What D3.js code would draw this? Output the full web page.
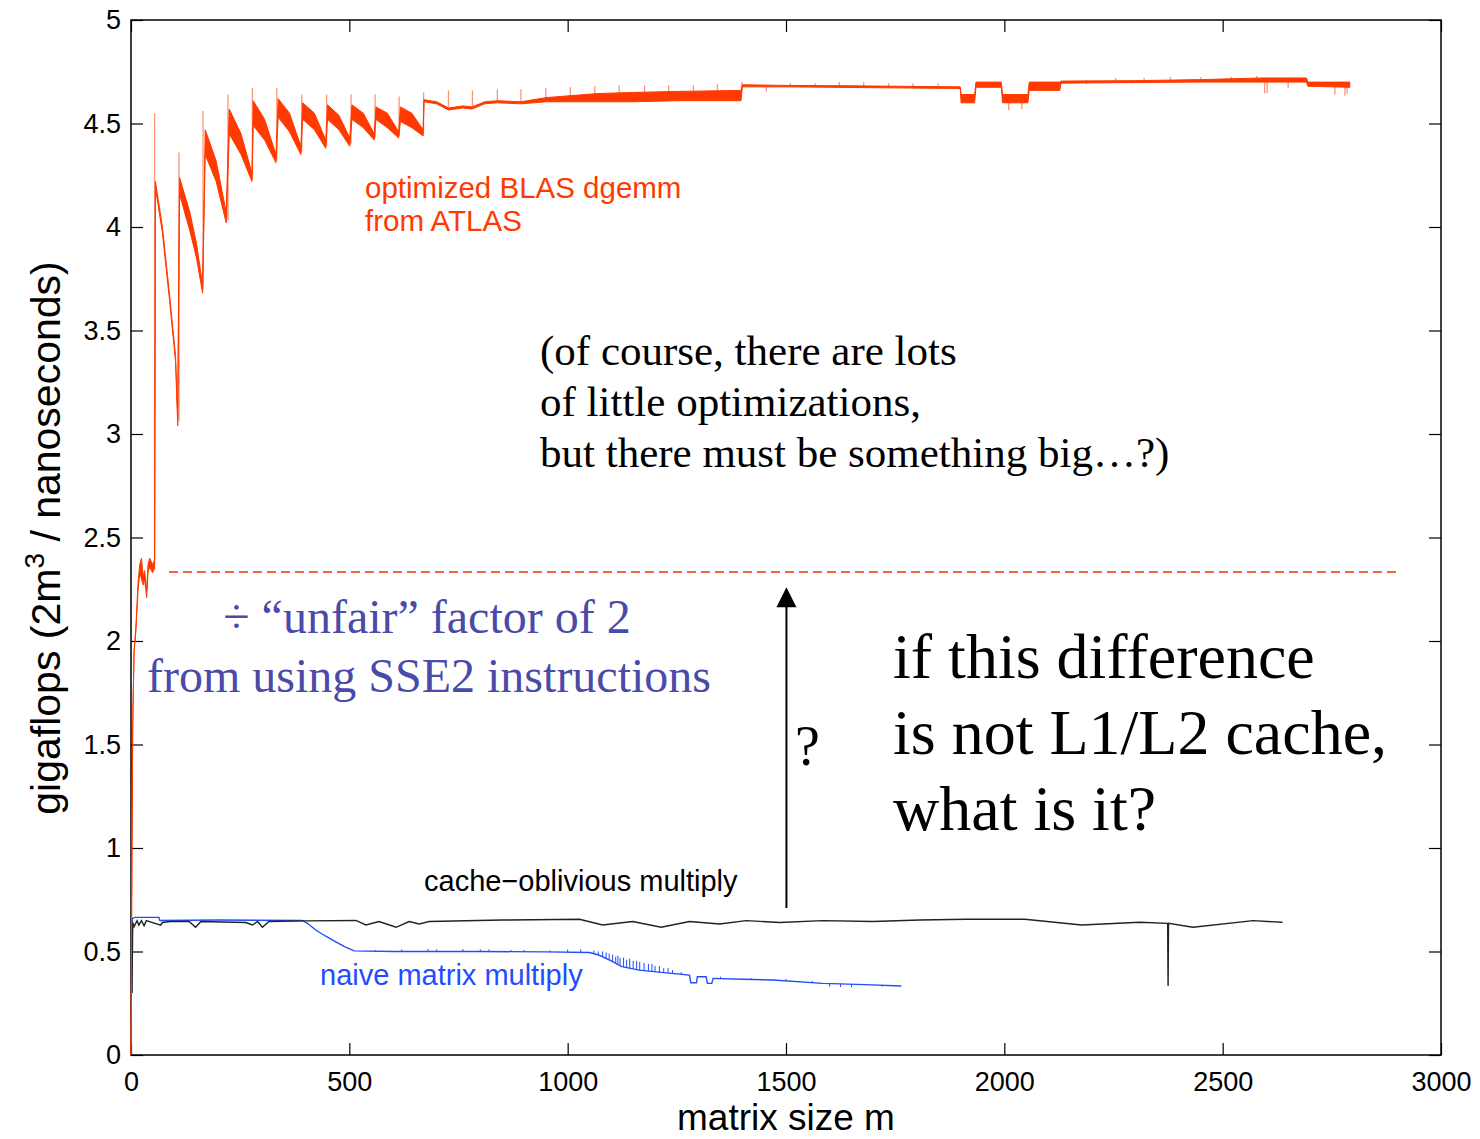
<!DOCTYPE html>
<html>
<head>
<meta charset="utf-8">
<script src="https://cdn.jsdelivr.net/npm/d3@7"></script>
<style>
  body { margin: 0; background: #fff; }
  text { font-family: "Liberation Sans", Arial, sans-serif; }
  .serif { font-family: "Liberation Serif", "Times New Roman", serif; }
</style>
</head>
<body>
<div id="chart"></div>
<script>
// axis ticks
const xTicks = [0, 500, 1000, 1500, 2000, 2500, 3000];
const yTicks = [0, 0.5, 1, 1.5, 2, 2.5, 3, 3.5, 4, 4.5, 5];

// optimized BLAS (ATLAS): [m, low, high] of the noisy band
const redBand = [
  [0,0,0],[2,0.9,0.9],[4,1.6,1.6],[7,1.95,1.95],[11,2.04,2.06],[16,2.24,2.28],[20,2.33,2.37],
  [24,2.3,2.4],[28,2.27,2.31],[31,2.3,2.34],[36,2.21,2.25],[39,2.33,2.37],[43,2.36,2.4],
  [49,2.33,2.37],[54,2.35,2.39],
  [56,4.19,4.22],[72,3.97,4.0],[88,3.65,3.68],[102,3.35,3.38],[107,3.04,3.08],
  [111,4.16,4.24],[135,3.98,4.07],[150,3.85,3.92],[164,3.68,3.72],
  [170,4.35,4.47],[195,4.22,4.32],[218,4.02,4.07],
  [225,4.45,4.57],[252,4.35,4.45],[277,4.22,4.26],
  [280,4.49,4.61],[306,4.42,4.52],[332,4.31,4.35],
  [337,4.53,4.62],[363,4.46,4.55],[389,4.35,4.39],
  [393,4.52,4.60],[420,4.47,4.55],[446,4.38,4.42],
  [450,4.52,4.59],[476,4.47,4.54],[501,4.39,4.43],
  [506,4.52,4.59],[532,4.48,4.55],[557,4.42,4.45],
  [561,4.52,4.58],[587,4.48,4.55],[613,4.43,4.46],
  [617,4.51,4.58],[643,4.48,4.55],[669,4.44,4.47],
  [671,4.605,4.615],[700,4.595,4.605],[727,4.565,4.575],[760,4.575,4.585],[781,4.57,4.58],
  [810,4.595,4.605],[839,4.60,4.61],[893,4.595,4.605],[950,4.605,4.625],[1010,4.605,4.635],
  [1072,4.605,4.645],[1150,4.605,4.65],[1250,4.61,4.655],[1397,4.61,4.66],
  [1400,4.677,4.687],[1500,4.677,4.684],[1650,4.674,4.682],[1800,4.671,4.679],[1899,4.669,4.677],
  [1901,4.60,4.64],[1932,4.60,4.64],
  [1935,4.675,4.70],[1993,4.675,4.70],
  [1996,4.60,4.64],[2054,4.60,4.64],
  [2057,4.66,4.70],[2127,4.66,4.70],
  [2130,4.695,4.705],[2300,4.698,4.707],[2450,4.70,4.712],[2590,4.70,4.72],[2692,4.70,4.72],
  [2695,4.68,4.70],[2791,4.675,4.70]
];
// thin spikes on the ATLAS curve: [m, from, to]
const redSpikes = [
  [54,2.37,4.55],[110,3.06,4.36],[165,3.70,4.56],[222,4.03,4.64],[278,4.23,4.67],
  [334,4.32,4.67],[391,4.36,4.64],[448,4.39,4.64],[504,4.40,4.64],[559,4.43,4.64],
  [614,4.44,4.63],[670,4.45,4.65],
  [727,4.57,4.66],[782,4.58,4.66],[839,4.60,4.665],[893,4.60,4.665],[950,4.62,4.67],
  [1006,4.63,4.675],[1062,4.64,4.68],[1118,4.64,4.685],[1176,4.645,4.685],[1231,4.65,4.685],
  [1288,4.65,4.685],[1343,4.655,4.69],[1399,4.66,4.70],
  [1455,4.68,4.655],[1510,4.68,4.695],[1567,4.68,4.695],[1622,4.68,4.70],[1678,4.68,4.70],
  [1735,4.68,4.695],[1791,4.68,4.695],[1848,4.68,4.695],
  [2010,4.60,4.565],[2040,4.60,4.57],
  [2188,4.69,4.71],[2255,4.70,4.72],[2320,4.70,4.72],[2380,4.70,4.725],[2450,4.705,4.725],
  [2520,4.705,4.725],[2578,4.705,4.73],[2596,4.70,4.645],[2602,4.70,4.646],[2650,4.70,4.67],
  [2668,4.705,4.725],[2757,4.68,4.64],[2780,4.68,4.635],[2785,4.68,4.645]
];

// cache-oblivious multiply: [m, gigaflops]
const blackLine = [
  [2,0.30],[4,0.64],[7,0.62],[14,0.649],[18,0.627],[24,0.649],[30,0.624],[35,0.649],
  [68,0.627],[72,0.64],[90,0.645],[133,0.645],[148,0.617],[160,0.645],[263,0.64],[278,0.628],
  [290,0.645],[301,0.617],[316,0.645],[400,0.648],[515,0.65],[538,0.628],[568,0.645],
  [607,0.617],[637,0.645],[660,0.633],[683,0.645],[850,0.652],[1027,0.656],[1080,0.628],
  [1149,0.645],[1214,0.617],[1279,0.645],[1348,0.633],[1409,0.649],[1485,0.64],[1584,0.649],
  [1699,0.645],[1806,0.652],[1913,0.656],[2047,0.656],[2177,0.628],[2310,0.641],[2374,0.636],
  [2375,0.333],[2376,0.636],[2432,0.617],[2570,0.649],[2637,0.641]
];

// naive matrix multiply: [m, gigaflops]
const blueLine = [
  [2,0.30],[3,0.66],[10,0.665],[64,0.665],[66,0.65],[200,0.652],[392,0.65],[405,0.635],
  [423,0.604],[445,0.575],[469,0.547],[490,0.522],[511,0.503],[600,0.50],[800,0.50],
  [950,0.498],[1050,0.495],[1071,0.483],[1100,0.455],[1124,0.427],[1164,0.41],[1220,0.398],
  [1279,0.386],[1282,0.349],[1295,0.349],[1297,0.378],[1317,0.378],[1320,0.346],[1330,0.346],
  [1333,0.37],[1400,0.366],[1470,0.362],[1584,0.346],[1680,0.34],[1764,0.333]
];
// spikes on the naive curve: [m, from, to]
const blueSpikes = [
  [560,0.50,0.507],[620,0.50,0.51],[680,0.50,0.512],[700,0.50,0.51],[760,0.50,0.512],
  [800,0.50,0.51],[820,0.50,0.51],[870,0.499,0.508],[900,0.499,0.508],[960,0.498,0.505],
  [1000,0.497,0.51],[1030,0.496,0.51],[1060,0.49,0.505],[1070,0.484,0.50],[1080,0.475,0.50],
  [1088,0.468,0.495],[1095,0.46,0.49],[1103,0.452,0.485],[1110,0.445,0.475],[1115,0.438,0.48],
  [1120,0.432,0.47],[1128,0.426,0.47],[1135,0.423,0.46],[1142,0.42,0.465],[1150,0.417,0.455],
  [1158,0.413,0.455],[1165,0.41,0.45],[1175,0.407,0.445],[1185,0.405,0.44],[1193,0.404,0.44],
  [1200,0.402,0.43],[1210,0.40,0.43],[1220,0.398,0.42],[1230,0.396,0.42],[1240,0.394,0.41],
  [1260,0.39,0.40],
  [1350,0.369,0.378],[1420,0.365,0.372],[1500,0.36,0.368],[1560,0.35,0.358],
  [1600,0.345,0.33],[1625,0.344,0.328],[1650,0.342,0.327],[1720,0.337,0.33]
];

// dashed "factor of 2" level and arrow
const halfLevel = { y: 2.333, m0: 87, m1: 2906 };
const arrowSpan = { m: 1501, from: 0.71, to: 2.26 };

const W = 1480, H = 1139;
const margin = { top: 20, right: 39, bottom: 84, left: 131 };
const width = W - margin.left - margin.right,
      height = H - margin.top - margin.bottom;

const svg = d3.select("#chart").append("svg")
    .attr("width", W)
    .attr("height", H);

const g = svg.append("g")
    .attr("transform", `translate(${margin.left},${margin.top})`);

const x = d3.scaleLinear().domain([0, 3000]).range([0, width]);
const y = d3.scaleLinear().domain([0, 5]).range([height, 0]);

const tickFont = "27px";

// axes, ticks pointing inward on all four sides
g.append("g")
    .attr("transform", `translate(0,${height})`)
    .call(d3.axisBottom(x).tickValues(xTicks).tickSize(-12).tickSizeOuter(0).tickPadding(17)
        .tickFormat(d3.format("d")));
g.append("g")
    .call(d3.axisLeft(y).tickValues(yTicks).tickSize(-12).tickSizeOuter(0).tickPadding(10)
        .tickFormat(d3.format("")));
g.append("g")
    .call(d3.axisTop(x).tickValues(xTicks).tickSize(-12).tickSizeOuter(0).tickFormat(""));
g.append("g")
    .attr("transform", `translate(${width},0)`)
    .call(d3.axisRight(y).tickValues(yTicks).tickSize(-12).tickSizeOuter(0).tickFormat(""));

g.selectAll(".domain").remove();
g.selectAll(".tick line").attr("stroke", "#000").attr("stroke-width", 1.2);
g.selectAll(".tick text")
    .attr("fill", "#000")
    .style("font-size", tickFont)
    .style("font-family", "'Liberation Sans', Arial, sans-serif");

g.append("rect")
    .attr("width", width)
    .attr("height", height)
    .attr("fill", "none")
    .attr("stroke", "#000")
    .attr("stroke-width", 1.5);

// naive multiply (blue)
const line = d3.line().x(d => x(d[0])).y(d => y(d[1]));
const blue = "#1f4dff";
g.append("path")
    .datum(blueLine)
    .attr("d", line)
    .attr("fill", "none")
    .attr("stroke", blue)
    .attr("stroke-width", 1.4);
g.selectAll(".bspike")
    .data(blueSpikes)
    .enter().append("line")
    .attr("class", "bspike")
    .attr("x1", d => x(d[0])).attr("x2", d => x(d[0]))
    .attr("y1", d => y(d[1])).attr("y2", d => y(d[2]))
    .attr("stroke", blue)
    .attr("stroke-width", 1);

// cache-oblivious (black)
g.append("path")
    .datum(blackLine)
    .attr("d", line)
    .attr("fill", "none")
    .attr("stroke", "#222")
    .attr("stroke-width", 1.4);

// ATLAS (red)
const red = "#ff3a00";
const area = d3.area()
    .x(d => x(d[0]))
    .y0(d => y(d[1]))
    .y1(d => y(d[2]));
g.append("path")
    .datum(redBand)
    .attr("d", area)
    .attr("fill", red)
    .attr("stroke", red)
    .attr("stroke-width", 1)
    .attr("stroke-linejoin", "round");
g.selectAll(".rspike")
    .data(redSpikes)
    .enter().append("line")
    .attr("class", "rspike")
    .attr("x1", d => x(d[0])).attr("x2", d => x(d[0]))
    .attr("y1", d => y(d[1])).attr("y2", d => y(d[2]))
    .attr("stroke", red)
    .attr("stroke-opacity", 0.55)
    .attr("stroke-width", 1.3);

// dashed level
g.append("line")
    .attr("x1", x(halfLevel.m0)).attr("x2", x(halfLevel.m1))
    .attr("y1", y(halfLevel.y)).attr("y2", y(halfLevel.y))
    .attr("stroke", "#ff2a00")
    .attr("stroke-width", 1.5)
    .attr("stroke-dasharray", "9,5");

// arrow
const ax = x(arrowSpan.m), ayTop = y(arrowSpan.to);
g.append("line")
    .attr("x1", ax).attr("x2", ax)
    .attr("y1", y(arrowSpan.from)).attr("y2", ayTop + 16)
    .attr("stroke", "#000")
    .attr("stroke-width", 2);
g.append("path")
    .attr("d", `M${ax},${ayTop} L${ax - 10},${ayTop + 20} L${ax + 10},${ayTop + 20} Z`)
    .attr("fill", "#000");

// series labels
g.append("text")
    .attr("x", 234).attr("y", 178)
    .attr("fill", red)
    .style("font-size", "29.5px")
    .text("optimized BLAS dgemm");
g.append("text")
    .attr("x", 234).attr("y", 211)
    .attr("fill", red)
    .style("font-size", "29.5px")
    .text("from ATLAS");
g.append("text")
    .attr("x", 293).attr("y", 871)
    .attr("fill", "#000")
    .style("font-size", "29px")
    .text("cache\u2212oblivious multiply");
g.append("text")
    .attr("x", 189).attr("y", 965)
    .attr("fill", blue)
    .style("font-size", "29px")
    .text("naive matrix multiply");

// serif annotations
const noteLines = ["(of course, there are lots", "of little optimizations,", "but there must be something big\u2026?)"];
g.append("text")
    .attr("class", "serif")
    .attr("x", 409).attr("y", 345)
    .style("font-size", "43px")
    .attr("fill", "#000")
    .selectAll("tspan")
    .data(noteLines)
    .enter().append("tspan")
    .attr("x", 409)
    .attr("dy", (d, i) => i === 0 ? 0 : 51)
    .text(d => d);

const factorColor = "#4a4aa8";
g.append("text")
    .attr("class", "serif")
    .attr("x", 296).attr("y", 613)
    .attr("text-anchor", "middle")
    .attr("fill", factorColor)
    .style("font-size", "48px")
    .text("\u00f7 \u201cunfair\u201d factor of 2");
g.append("text")
    .attr("class", "serif")
    .attr("x", 16).attr("y", 672)
    .attr("fill", factorColor)
    .style("font-size", "48px")
    .text("from using SSE2 instructions");

g.append("text")
    .attr("class", "serif")
    .attr("x", 664).attr("y", 745)
    .attr("fill", "#000")
    .style("font-size", "56px")
    .text("?");

const bigLines = ["if this difference", "is not L1/L2 cache,", "what is it?"];
g.append("text")
    .attr("class", "serif")
    .attr("x", 762).attr("y", 658)
    .style("font-size", "64px")
    .attr("fill", "#000")
    .selectAll("tspan")
    .data(bigLines)
    .enter().append("tspan")
    .attr("x", 762)
    .attr("dy", (d, i) => i === 0 ? 0 : 76)
    .text(d => d);

// axis titles
svg.append("text")
    .attr("x", margin.left + width / 2)
    .attr("y", 1130)
    .attr("text-anchor", "middle")
    .style("font-size", "37px")
    .text("matrix size m");

const yTitle = svg.append("text")
    .attr("transform", "translate(60,538) rotate(-90)")
    .attr("text-anchor", "middle")
    .style("font-size", "41px");
yTitle.append("tspan").text("gigaflops (2m");
yTitle.append("tspan").attr("dy", -16).style("font-size", "28px").text("3");
yTitle.append("tspan").attr("dy", 16).text(" / nanoseconds)");
</script>
</body>
</html>
